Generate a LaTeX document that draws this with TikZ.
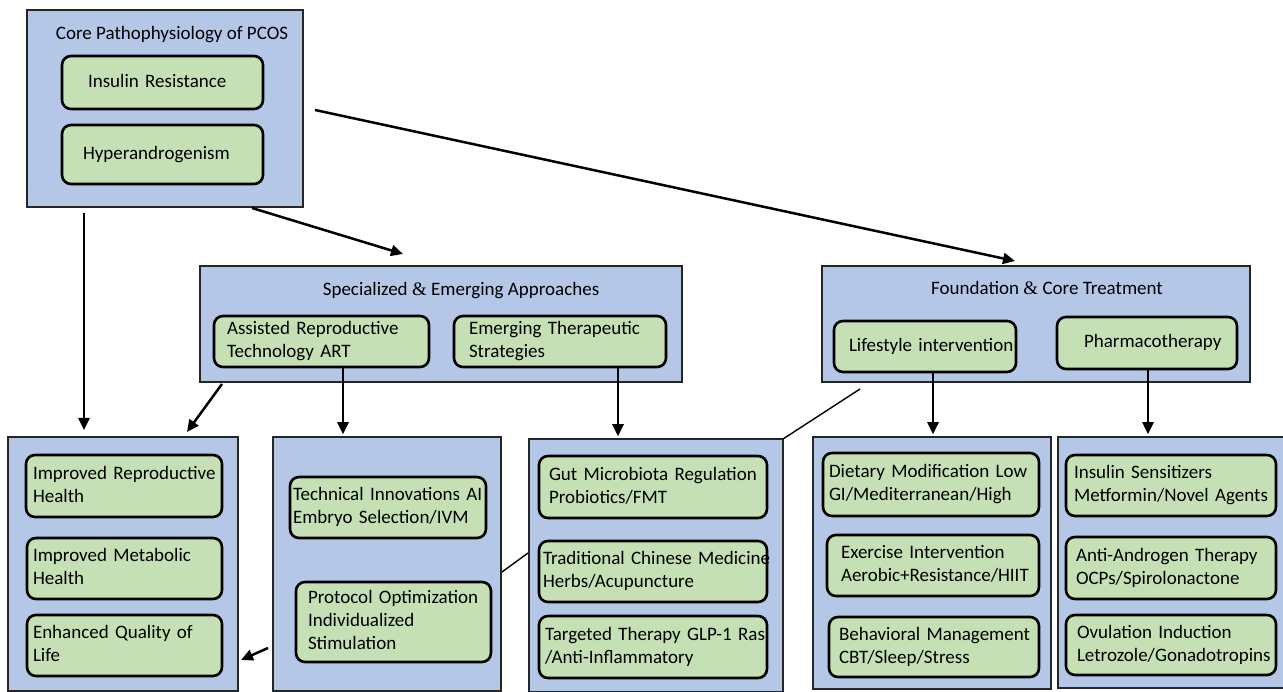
\documentclass[tikz,border=0pt]{standalone}
\usepackage{fontspec}
\setmainfont{Carlito}
\newfontfamily\ampfont{Liberation Serif}
\usetikzlibrary{arrows.meta}
\definecolor{bluebg}{HTML}{B4C7E7}
\definecolor{greenbg}{HTML}{C5E0B4}
\tikzset{
  outerbox/.style={draw=black!85, line width=1.5pt, fill=bluebg, inner sep=0pt},
  gbox/.style={draw=black, line width=2.6pt, fill=greenbg, rounded corners=9pt,
     align=left, inner ysep=0pt, font=\fontsize{19}{23}\selectfont},
  ttl/.style={font=\fontsize{19}{23}\selectfont, anchor=base, inner sep=0pt},
  arr/.style={line width=2.5pt, -{Triangle[length=12pt,width=11pt]}},
  plainline/.style={line width=1.4pt},
}
\newcommand{\obx}[5]{%
  \pgfmathsetmacro{\ow}{#4-#2}\pgfmathsetmacro{\oh}{#5-#3}%
  \pgfmathsetmacro{\ocx}{(#2+#4)/2}\pgfmathsetmacro{\ocy}{(#3+#5)/2}%
  \node[outerbox, minimum width=\ow pt, minimum height=\oh pt] (#1) at (\ocx,\ocy) {};}
\newcommand{\gbx}[7]{%
  \pgfmathsetmacro{\gw}{#4-#2}\pgfmathsetmacro{\gh}{#5-#3}\pgfmathsetmacro{\gt}{#4-#2-2*#6}%
  \pgfmathsetmacro{\gcx}{(#2+#4)/2}\pgfmathsetmacro{\gcy}{(#3+#5)/2}%
  \node[gbox, minimum width=\gw pt, minimum height=\gh pt, text width=\gt pt, inner xsep=#6pt] (#1) at (\gcx,\gcy)
     {\begin{tabular}{@{}l@{}}#7\end{tabular}};}
\begin{document}
\begin{tikzpicture}[x=1pt,y=-1pt]
\useasboundingbox (0,0) rectangle (1283,692);
% outer boxes
\obx{core}{27}{10}{303}{207}
\obx{spec}{200}{266}{682}{382}
\obx{found}{822}{266}{1250}{382}
\obx{outc}{8}{437}{238}{691}
\obx{artb}{273}{437}{501}{691}
\obx{emgb}{529}{439}{783}{692}
\obx{lifeb}{813}{437}{1051}{689}
\obx{pharb}{1058}{437}{1290}{688}
% titles
\node[ttl] (coret) at (172,40) {Core Pathophysiology of PCOS};
\node[ttl] (spect) at (461,296) {Specialized {\ampfont\&} Emerging Approaches};
\node[ttl] (foundt) at (1047,295) {Foundation {\ampfont\&} Core Treatment};
% inner boxes
\gbx{ir}{62}{56}{263}{109}{26}{Insulin Resistance}
\gbx{hy}{62}{125}{263}{184}{21}{Hyperandrogenism}
\gbx{art}{214}{316}{429}{367}{13}{Assisted Reproductive\\Technology ART}
\gbx{emg}{454}{316}{666}{367}{15}{Emerging Therapeutic\\Strategies}
\gbx{life}{834}{321}{1016}{372}{15}{Lifestyle intervention}
\gbx{pharm}{1057}{317}{1237}{369}{27}{Pharmacotherapy}
\gbx{o1}{26}{455}{222}{517}{7}{Improved Reproductive\\Health}
\gbx{o2}{27}{538}{222}{599}{6}{Improved Metabolic\\Health}
\gbx{o3}{27}{615}{222}{676}{6}{Enhanced Quality of\\Life}
\gbx{t1}{290}{477}{486}{538}{3}{Technical Innovations AI\\Embryo Selection/IVM}
\gbx{t2}{296}{582}{491}{662}{12}{Protocol Optimization\\Individualized\\Stimulation}
\gbx{e1}{539}{456}{767}{518}{10}{Gut Microbiota Regulation\\Probiotics/FMT}
\gbx{e2}{539}{541}{767}{602}{4}{Traditional Chinese Medicine\\Herbs/Acupuncture}
\gbx{e3}{539}{616}{767}{678}{6}{Targeted Therapy GLP-1 Ras\\/Anti-Inflammatory}
\gbx{l1}{823}{453}{1039}{516}{6}{Dietary Modification Low\\GI/Mediterranean/High}
\gbx{l2}{827}{535}{1039}{596}{14}{Exercise Intervention\\Aerobic+Resistance/HIIT}
\gbx{l3}{829}{617}{1039}{677}{10}{Behavioral Management\\CBT/Sleep/Stress}
\gbx{p1}{1066}{455}{1276}{516}{8}{Insulin Sensitizers\\Metformin/Novel Agents}
\gbx{p2}{1066}{537}{1276}{599}{10}{Anti-Androgen Therapy\\OCPs/Spirolonactone}
\gbx{p3}{1066}{615}{1276}{675}{11}{Ovulation Induction\\Letrozole/Gonadotropins}
% connector end points
\coordinate (a1s) at (84,213);   \coordinate (a1e) at (84,430);
\coordinate (a2s) at (252,208);  \coordinate (a2e) at (403,254);
\coordinate (a3s) at (315,110);  \coordinate (a3e) at (1015,261);
\coordinate (a4s) at (222,384);  \coordinate (a4e) at (187,432);
\coordinate (xart) at (343,0);   \coordinate (xemg) at (618,0);
\coordinate (xlife) at (933,0);  \coordinate (xphar) at (1148,0);
\coordinate (a9s) at (268,648);  \coordinate (a9e) at (241,660);
\coordinate (l1s) at (860,389);  \coordinate (l1e) at (783,439);
\coordinate (l2s) at (502,572);  \coordinate (l2e) at (528,553);
% connectors
\draw[arr] (a1s) -- (a1e);
\draw[arr] (a2s) -- (a2e);
\draw[arr] (a3s) -- (a3e);
\draw[arr] (a4s) -- (a4e);
\draw[arr] (art.south -| xart) -- ([yshift=2pt]artb.north -| xart);
\draw[arr] (emg.south -| xemg) -- ([yshift=2pt]emgb.north -| xemg);
\draw[arr] (life.south -| xlife) -- ([yshift=2pt]lifeb.north -| xlife);
\draw[arr] (pharm.south -| xphar) -- ([yshift=2pt]pharb.north -| xphar);
\draw[arr] (a9s) -- (a9e);
\draw[plainline] (l1s) -- (l1e);
\draw[plainline] (l2s) -- (l2e);
\end{tikzpicture}
\end{document}
